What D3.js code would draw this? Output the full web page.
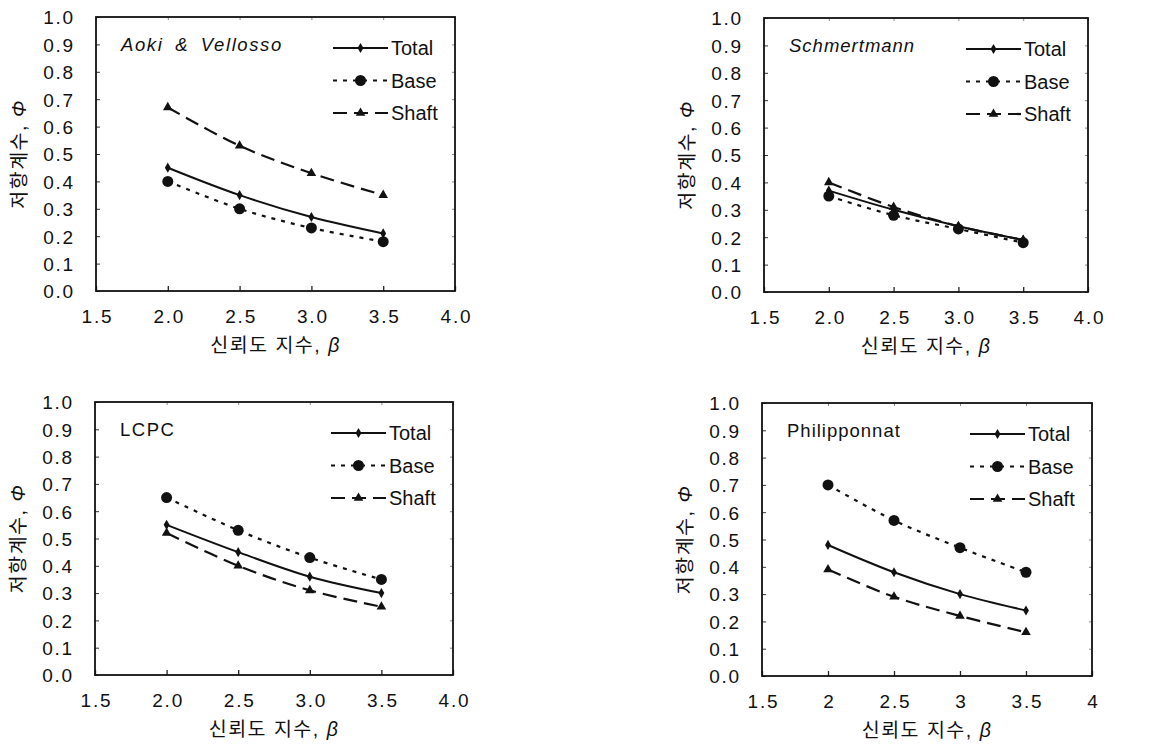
<!DOCTYPE html>
<html>
<head>
<meta charset="utf-8">
<script src="https://cdn.jsdelivr.net/npm/d3@7"></script>
<style>
  html, body { margin: 0; padding: 0; background: #fff; }
  svg { display: block; }
  .tick-label { font-family: "Liberation Sans", Arial, sans-serif; font-size: 19px; fill: #111; letter-spacing: 1.8px; }
  .legend-label { font-family: "Liberation Sans", Arial, sans-serif; font-size: 20px; fill: #111; }
  .method-label { font-family: "Liberation Sans", Arial, sans-serif; font-size: 18.5px; fill: #111; letter-spacing: 1px; }
  .axis-title { font-family: "Liberation Sans", "Noto Sans CJK KR", sans-serif; font-size: 19.5px; fill: #111; letter-spacing: 1.5px; }
</style>
</head>
<body>
<svg id="chart" width="1158" height="751"></svg>
<script>
// Reliability index values (x) shared by every method
const betaValues = [2.0, 2.5, 3.0, 3.5];

// Axis tick values and labels
const xTickValues = [1.5, 2.0, 2.5, 3.0, 3.5, 4.0];
const xTickLabelsDecimal = ["1.5", "2.0", "2.5", "3.0", "3.5", "4.0"];
const xTickLabelsPlain = ["1.5", "2", "2.5", "3", "3.5", "4"];
const yTickValues = [0, 0.1, 0.2, 0.3, 0.4, 0.5, 0.6, 0.7, 0.8, 0.9, 1.0];
const yTickLabels = ["0.0", "0.1", "0.2", "0.3", "0.4", "0.5", "0.6", "0.7", "0.8", "0.9", "1.0"];

// Series names (legend order)
const seriesNames = ["Total", "Base", "Shaft"];

// Resistance factors, φ, per method
const aokiTotal = [0.45, 0.35, 0.27, 0.21];
const aokiBase  = [0.40, 0.30, 0.23, 0.18];
const aokiShaft = [0.67, 0.53, 0.43, 0.35];

const schmertmannTotal = [0.37, 0.30, 0.24, 0.19];
const schmertmannBase  = [0.35, 0.28, 0.23, 0.18];
const schmertmannShaft = [0.40, 0.31, 0.24, 0.19];

const lcpcTotal = [0.55, 0.45, 0.36, 0.30];
const lcpcBase  = [0.65, 0.53, 0.43, 0.35];
const lcpcShaft = [0.52, 0.40, 0.31, 0.25];

const philipponnatTotal = [0.48, 0.38, 0.30, 0.24];
const philipponnatBase  = [0.70, 0.57, 0.47, 0.38];
const philipponnatShaft = [0.39, 0.29, 0.22, 0.16];

// Method names
const methodNames = ["Aoki & Vellosso", "Schmertmann", "LCPC", "Philipponnat"];

// Panel layout (frame box in page pixels)
const panels = [
  { name: methodNames[0], style: "oblique", spacing: 1.6, word: 5, left: 96,  right: 455,  top: 17,  bottom: 291,
    total: aokiTotal, base: aokiBase, shaft: aokiShaft, xLabels: xTickLabelsDecimal },
  { name: methodNames[1], style: "italic", spacing: 1, word: 0, left: 764, right: 1088, top: 18,  bottom: 292,
    total: schmertmannTotal, base: schmertmannBase, shaft: schmertmannShaft, xLabels: xTickLabelsDecimal },
  { name: methodNames[2], style: "normal", spacing: 1.5, word: 0, left: 95,  right: 453,  top: 402, bottom: 675,
    total: lcpcTotal, base: lcpcBase, shaft: lcpcShaft, xLabels: xTickLabelsDecimal },
  { name: methodNames[3], style: "normal", spacing: 1, word: 0, left: 762, right: 1092, top: 403, bottom: 676,
    total: philipponnatTotal, base: philipponnatBase, shaft: philipponnatShaft, xLabels: xTickLabelsPlain }
];

// Line and marker styles for each series
const seriesStyle = {
  Total: { dash: null,   width: 2.0, marker: "diamond" },
  Base:  { dash: "4,6",  width: 2.2, marker: "circle" },
  Shaft: { dash: "14,7", width: 2.2, marker: "triangle" }
};

const svg = d3.select("#chart");

function drawMarker(g, type, x, y) {
  if (type === "diamond") {
    g.append("path")
      .attr("d", d3.symbol().type(d3.symbolDiamond).size(30)())
      .attr("transform", `translate(${x},${y})`)
      .attr("fill", "#111");
  } else if (type === "circle") {
    g.append("circle").attr("cx", x).attr("cy", y).attr("r", 5.5).attr("fill", "#111");
  } else {
    g.append("path")
      .attr("d", d3.symbol().type(d3.symbolTriangle).size(40)())
      .attr("transform", `translate(${x},${y})`)
      .attr("fill", "#111");
  }
}

panels.forEach(p => {
  const g = svg.append("g");
  const x = d3.scaleLinear().domain([1.5, 4.0]).range([p.left, p.right]);
  const y = d3.scaleLinear().domain([0, 1.0]).range([p.bottom, p.top]);

  // Left axis with inward ticks
  const yAxis = d3.axisLeft(y).tickValues(yTickValues).tickSize(-4)
    .tickFormat((d, i) => yTickLabels[i]).tickPadding(21);
  const ya = g.append("g").attr("transform", `translate(${p.left},0)`).call(yAxis);
  ya.select(".domain").remove();
  ya.selectAll(".tick line").attr("stroke", "#333").attr("stroke-width", 1);
  ya.selectAll(".tick text").attr("class", "tick-label").attr("dy", "0.36em");

  // Bottom axis with inward ticks
  const xAxis = d3.axisBottom(x).tickValues(xTickValues).tickSize(-5)
    .tickFormat((d, i) => p.xLabels[i]).tickPadding(19);
  const xa = g.append("g").attr("transform", `translate(0,${p.bottom})`).call(xAxis);
  xa.select(".domain").remove();
  xa.selectAll(".tick line").attr("stroke", "#222").attr("stroke-width", 1.3);
  xa.selectAll(".tick text").attr("class", "tick-label").attr("dy", "0.71em").attr("dx", "1px");

  // Mirrored faint ticks on top and right edges
  const ta = g.append("g").attr("transform", `translate(0,${p.top})`)
    .call(d3.axisTop(x).tickValues(xTickValues).tickSize(-3).tickFormat(""));
  ta.select(".domain").remove();
  ta.selectAll(".tick line").attr("stroke", "#888");
  const ra = g.append("g").attr("transform", `translate(${p.right},0)`)
    .call(d3.axisRight(y).tickValues(yTickValues).tickSize(-3).tickFormat(""));
  ra.select(".domain").remove();
  ra.selectAll(".tick line").attr("stroke", "#888");

  // Plot frame
  g.append("rect")
    .attr("x", p.left).attr("y", p.top)
    .attr("width", p.right - p.left).attr("height", p.bottom - p.top)
    .attr("fill", "none").attr("stroke", "#111").attr("stroke-width", 1.8);

  // Series lines (smoothed) and markers
  const line = d3.line()
    .x((d, i) => x(betaValues[i]))
    .y(d => y(d))
    .curve(d3.curveCatmullRom.alpha(0.5));

  const seriesData = { Total: p.total, Base: p.base, Shaft: p.shaft };
  seriesNames.forEach(name => {
    const st = seriesStyle[name];
    g.append("path")
      .attr("d", line(seriesData[name]))
      .attr("fill", "none")
      .attr("stroke", "#111")
      .attr("stroke-width", st.width)
      .attr("stroke-dasharray", st.dash);
    seriesData[name].forEach((v, i) => drawMarker(g, st.marker, x(betaValues[i]), y(v)));
  });

  // Method name
  g.append("text")
    .attr("class", "method-label")
    .attr("x", p.left + 25)
    .attr("y", y(0.9) + 7)
    .style("font-style", p.style)
    .style("letter-spacing", p.spacing + "px")
    .style("word-spacing", p.word + "px")
    .text(p.name);

  // Legend
  const lx0 = p.right - 122, lx1 = p.right - 67;
  seriesNames.forEach((name, i) => {
    const st = seriesStyle[name];
    const ly = p.top + 31 + i * 32.5;
    g.append("line")
      .attr("x1", lx0).attr("x2", lx1).attr("y1", ly).attr("y2", ly)
      .attr("stroke", "#111").attr("stroke-width", st.width)
      .attr("stroke-dasharray", st.dash);
    drawMarker(g, st.marker, (lx0 + lx1) / 2, ly);
    g.append("text")
      .attr("class", "legend-label")
      .attr("x", lx1 + 3)
      .attr("y", ly + 7)
      .text(name);
  });

  // Axis titles
  const xt = g.append("text")
    .attr("class", "axis-title")
    .attr("x", (p.left + p.right) / 2)
    .attr("y", p.bottom + 61)
    .attr("text-anchor", "middle");
  xt.append("tspan").text("신뢰도 지수, ");
  xt.append("tspan").style("font-style", "italic").text("β");

  const cy = (p.top + p.bottom) / 2;
  const yt = g.append("text")
    .attr("class", "axis-title")
    .attr("transform", `translate(${p.left - 70},${cy}) rotate(-90)`)
    .attr("text-anchor", "middle");
  yt.append("tspan").text("저항계수, ");
  yt.append("tspan").style("font-style", "italic").text("Φ");
});
</script>
</body>
</html>
